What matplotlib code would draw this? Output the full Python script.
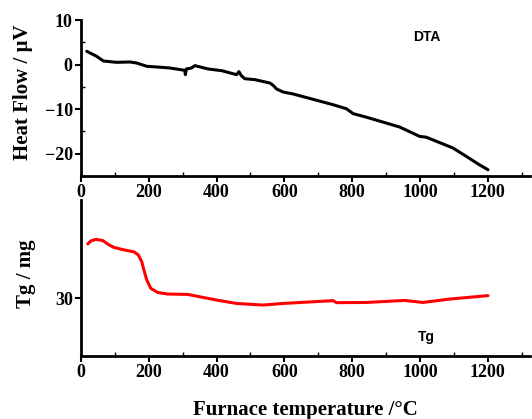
import numpy as np
import matplotlib.pyplot as plt
from matplotlib.ticker import MultipleLocator

# DTA curve (temperature in °C, heat flow in µV)
dta_temp = [17, 46, 66, 105, 144, 164, 194, 223, 262, 306, 308, 311, 326, 336, 375,
            415, 459, 466, 473, 483, 513, 557, 567, 577, 596, 626, 744, 783, 803,
            842, 940, 999, 1019, 1097, 1137, 1176, 1201]
dta_flow = [3.0, 1.87, 0.82, 0.52, 0.6, 0.37, -0.37, -0.52, -0.75, -1.27, -2.25, -0.97,
            -0.75, -0.22, -0.97, -1.35, -2.25, -1.57, -2.47, -3.15, -3.37, -4.12,
            -4.64, -5.46, -6.14, -6.59, -9.0, -9.9, -11.0, -11.8, -14.0, -16.1,
            -16.3, -18.7, -20.6, -22.5, -23.6]

# TG curve (temperature in °C, mass in mg)
tg_temp = [20, 29, 44, 64, 83, 98, 128, 157, 169, 179, 187, 194, 206, 226, 256, 315,
           400, 459, 537, 596, 744, 754, 842, 955, 1009, 1088, 1201]
tg_mass = [32.7, 32.85, 32.93, 32.87, 32.65, 32.52, 32.4, 32.3, 32.15, 31.82, 31.32,
           30.9, 30.48, 30.28, 30.2, 30.18, 29.9, 29.73, 29.65, 29.73, 29.87, 29.77,
           29.78, 29.88, 29.78, 29.95, 30.12]

xticks = [0, 200, 400, 600, 800, 1000, 1200]

fig = plt.figure(figsize=(5.32, 4.19), dpi=100)
ax1 = fig.add_axes([0.1523, 0.580, 0.844, 0.372])
ax2 = fig.add_axes([0.1523, 0.150, 0.844, 0.373])

label_font = dict(family='Liberation Serif', weight='bold', size=15)

ax1.plot(dta_temp, dta_flow, color='black', lw=2.2, solid_capstyle='round')
ax1.set_ylim(-25, 10)
ax1.set_yticks([-20, -10, 0, 10])
ax1.yaxis.set_minor_locator(MultipleLocator(5))
ax1.set_ylabel('Heat Flow / µV', fontdict=label_font)
ax1.yaxis.set_label_coords(-0.107, 0.54)
ax1.text(979, 6.3, 'DTA', family='Liberation Sans', weight='bold', size=10, va='center')

ax2.plot(tg_temp, tg_mass, color='red', lw=2.2, solid_capstyle='round')
ax2.set_ylim(27.1, 34.9)
ax2.set_yticks([30])
ax2.set_ylabel('Tg / mg', fontdict=label_font)
ax2.yaxis.set_label_coords(-0.100, 0.53)
ax2.set_xlabel('Furnace temperature /°C', fontdict=label_font, labelpad=13)
ax2.text(994, 28.05, 'Tg', family='Liberation Sans', weight='bold', size=10, va='center')

for ax in (ax1, ax2):
    ax.set_xlim(0, 1325)
    ax.set_xticks(xticks)
    ax.xaxis.set_minor_locator(MultipleLocator(100))
    ax.spines['top'].set_visible(False)
    ax.spines['right'].set_visible(False)
    ax.spines['left'].set_linewidth(2)
    ax.spines['bottom'].set_linewidth(2)
    ax.tick_params(which='major', direction='out', length=4, width=1.5, pad=2)
    ax.tick_params(which='minor', direction='in', length=3, width=1)
    for lab in ax.get_xticklabels() + ax.get_yticklabels():
        lab.set_family('Liberation Serif')
        lab.set_weight('bold')
        lab.set_size(13)

fig.savefig('out.png', dpi=100)
